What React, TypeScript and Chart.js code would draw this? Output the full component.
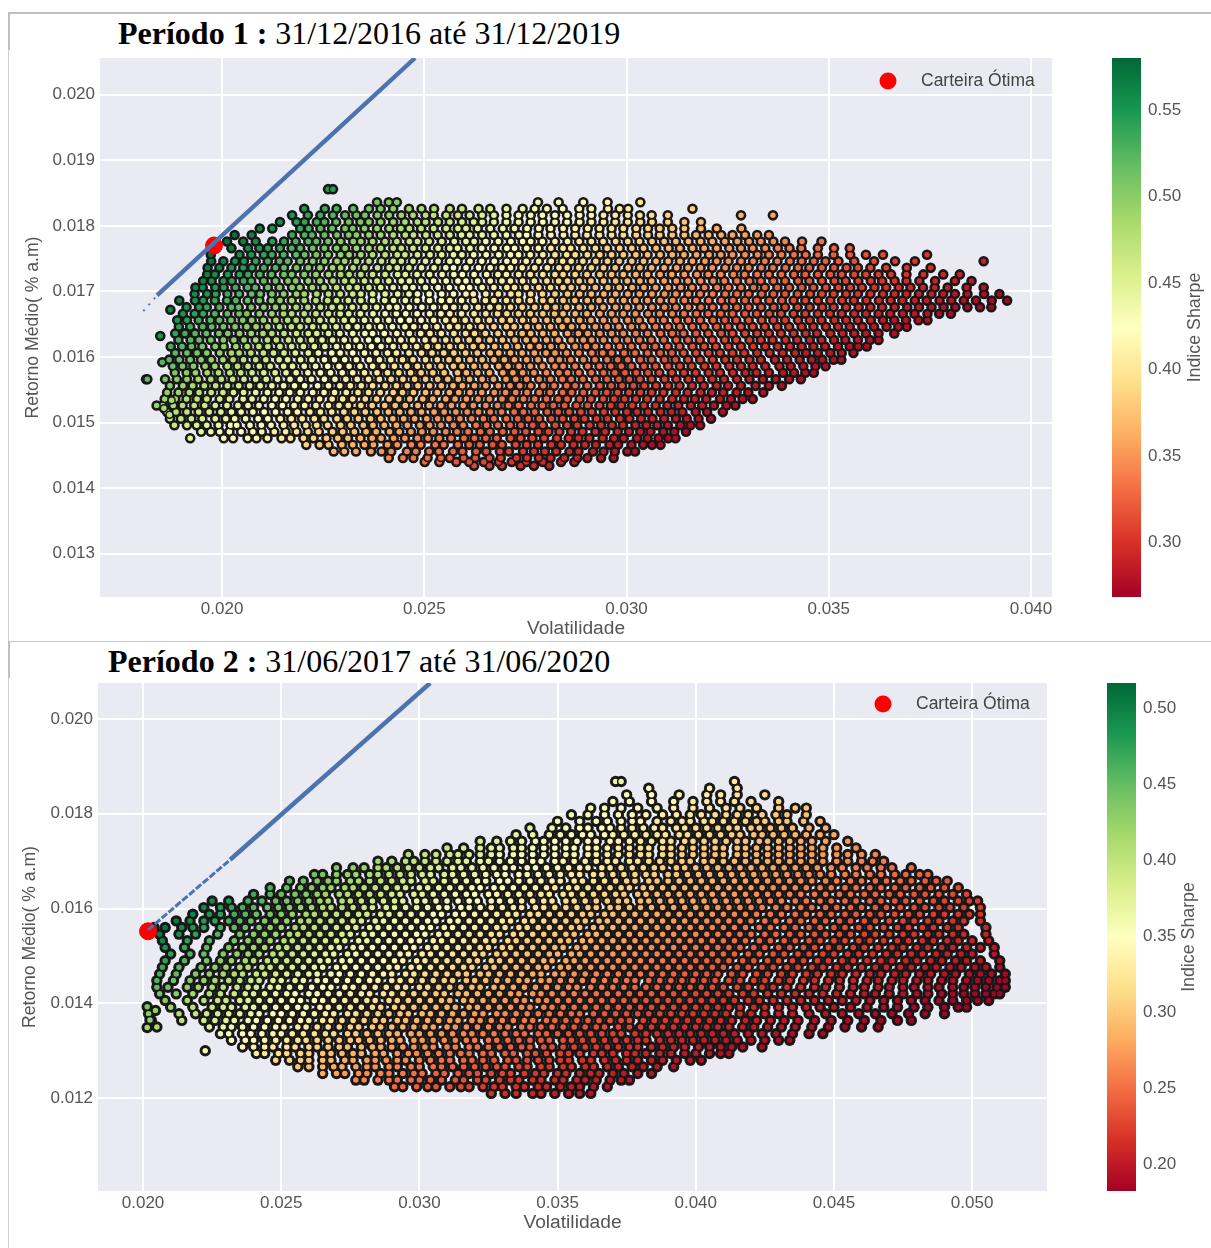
import React, { useEffect, useRef } from "react";
import { Chart, registerables } from "chart.js";
Chart.register(...registerables);

// [Retorno Médio × 1e5, [Volatilidade × 1e5, ...]]
const ROWS_1: [number, number[]][] = [
[1434,[2623,2661,2692,2738,2771,2809]],
[1440,[2501,2537,2579,2611,2647,2684,2716,2752,2793,2838,2871]],
[1446,[2412,2447,2473,2508,2541,2563,2597,2626,2661,2689,2728,2754,2783,2812,2846,2878,2903,2937,2968]],
[1456,[2276,2302,2331,2368,2394,2418,2457,2479,2512,2536,2571,2594,2628,2653,2687,2709,2744,2771,2798,2826,2859,2881,2917,2943,2971,3002,3021]],
[1466,[2208,2241,2263,2296,2323,2352,2374,2409,2433,2468,2491,2527,2548,2583,2611,2637,2669,2692,2726,2753,2781,2814,2838,2869,2897,2924,2958,2979,3012,3041,3063,3084]],
[1476,[1921,2004,2027,2063,2085,2112,2147,2169,2201,2226,2258,2286,2311,2342,2371,2393,2424,2452,2483,2509,2537,2566,2598,2624,2652,2679,2713,2738,2767,2796,2828,2857,2881,2908,2941,2969,2993,3026,3052,3079,3103,3121]],
[1486,[1948,1972,1994,2018,2047,2076,2098,2129,2157,2184,2212,2239,2273,2298,2327,2356,2381,2414,2438,2467,2494,2522,2553,2581,2608,2639,2662,2694,2723,2751,2782,2807,2834,2863,2891,2923,2947,2978,3006,3034,3059,3091,3118,3147]],
[1496,[1882,1913,1937,1962,1991,2021,2036,2069,2097,2121,2152,2178,2207,2234,2261,2293,2318,2349,2373,2401,2431,2458,2489,2513,2541,2572,2596,2628,2654,2682,2712,2739,2768,2793,2824,2853,2878,2909,2937,2964,2991,3022,3049,3076,3102,3133,3158,3182]],
[1506,[1871,1898,1924,1951,1983,2009,2031,2058,2089,2113,2144,2171,2198,2228,2252,2284,2309,2337,2367,2392,2422,2449,2476,2506,2533,2561,2588,2617,2646,2672,2703,2731,2757,2784,2814,2842,2871,2896,2926,2953,2984,3007,3036,3064,3093,3122,3149,3178,3209]],
[1516,[1864,1886,1913,1942,1968,1997,2023,2047,2076,2104,2132,2162,2186,2217,2243,2271,2301,2327,2354,2383,2411,2439,2467,2493,2524,2549,2578,2606,2634,2663,2691,2722,2745,2773,2804,2831,2858,2887,2914,2944,2972,3001,3026,3053,3084,3111,3138,3171,3199,3238]],
[1526,[1853,1879,1902,1931,1957,1983,2012,2039,2064,2091,2123,2149,2178,2204,2232,2263,2289,2312,2343,2371,2402,2428,2453,2484,2512,2541,2567,2596,2621,2652,2681,2708,2733,2764,2792,2819,2847,2876,2904,2933,2961,2987,3014,3043,3072,3101,3128,3159,3187,3216,3247,3269]],
[1536,[1858,1884,1912,1938,1962,1994,2018,2052,2074,2103,2131,2158,2187,2213,2241,2272,2298,2323,2354,2382,2413,2437,2464,2496,2521,2553,2576,2604,2633,2661,2692,2717,2745,2773,2802,2831,2853,2884,2912,2942,2969,2995,3023,3051,3082,3113,3142,3169,3197,3231,3258,3287,3312]],
[1546,[1864,1892,1919,1943,1973,2002,2028,2053,2083,2112,2141,2167,2193,2224,2252,2278,2307,2336,2362,2391,2423,2446,2473,2503,2532,2562,2585,2613,2642,2673,2701,2726,2754,2784,2811,2842,2864,2893,2923,2951,2978,3006,3034,3062,3091,3122,3151,3183,3211,3239,3272,3301,3338]],
[1556,[1871,1903,1927,1956,1984,2013,2041,2068,2094,2123,2152,2179,2204,2236,2263,2291,2317,2344,2372,2403,2431,2458,2484,2513,2542,2571,2594,2624,2652,2683,2712,2736,2763,2794,2821,2852,2873,2903,2934,2962,2989,3017,3044,3073,3103,3131,3162,3191,3223,3251,3283,3319,3352,3384]],
[1566,[1812,1859,1888,1913,1941,1972,1998,2026,2054,2083,2109,2137,2168,2193,2221,2253,2279,2306,2334,2362,2389,2418,2447,2476,2503,2533,2558,2584,2612,2643,2671,2702,2726,2753,2784,2812,2841,2863,2892,2924,2952,2981,3007,3033,3062,3094,3123,3153,3182,3212,3241,3273,3304,3337,3369,3402,3431]],
[1576,[1883,1912,1934,1963,1991,2019,2046,2074,2103,2131,2158,2183,2212,2243,2268,2297,2323,2352,2383,2409,2437,2466,2492,2521,2549,2582,2604,2632,2661,2694,2719,2743,2771,2802,2833,2854,2882,2913,2943,2971,2996,3024,3053,3081,3112,3142,3171,3203,3231,3263,3294,3321,3352,3387,3414,3442,3463]],
[1586,[1878,1902,1929,1958,1982,2013,2038,2064,2092,2119,2152,2174,2203,2231,2261,2289,2314,2341,2372,2398,2426,2457,2483,2512,2541,2572,2593,2623,2652,2684,2707,2734,2762,2792,2823,2843,2873,2904,2933,2961,2987,3012,3043,3072,3103,3132,3161,3193,3222,3254,3283,3312,3343,3378,3406,3437,3467,3492]],
[1596,[1869,1894,1921,1948,1973,2002,2027,2053,2083,2108,2141,2162,2194,2222,2253,2278,2303,2332,2364,2389,2417,2446,2472,2503,2532,2561,2584,2613,2643,2672,2698,2723,2753,2781,2814,2834,2862,2893,2922,2952,2978,3003,3034,3062,3094,3121,3152,3182,3213,3244,3273,3304,3332,3367,3397,3428,3458,3484,3512,3531]],
[1606,[1884,1913,1938,1962,1994,2023,2042,2071,2102,2127,2153,2181,2213,2238,2271,2292,2323,2352,2381,2409,2431,2462,2493,2519,2548,2573,2602,2631,2663,2684,2713,2742,2772,2801,2823,2852,2882,2914,2941,2963,2994,3021,3052,3083,3112,3141,3172,3203,3231,3262,3291,3323,3354,3386,3417,3444,3473,3504,3532,3561]],
[1616,[1873,1901,1924,1951,1983,2004,2034,2062,2091,2113,2143,2172,2201,2228,2254,2283,2312,2341,2369,2393,2423,2452,2481,2507,2534,2563,2592,2621,2643,2674,2703,2731,2761,2784,2813,2841,2873,2901,2923,2954,2983,3012,3043,3071,3102,3131,3163,3192,3221,3252,3283,3313,3343,3374,3404,3433,3462,3491,3523,3552,3573,3594]],
[1626,[1892,1922,1943,1972,2003,2029,2054,2083,2112,2134,2164,2193,2221,2247,2273,2302,2331,2362,2384,2412,2442,2471,2502,2524,2553,2582,2611,2634,2662,2693,2724,2752,2773,2802,2831,2863,2893,2914,2943,2974,3003,3032,3061,3092,3123,3152,3181,3212,3243,3271,3304,3332,3361,3393,3422,3453,3482,3513,3541,3572,3602,3623]],
[1636,[1884,1908,1933,1961,1992,2014,2043,2072,2101,2123,2153,2184,2213,2234,2263,2291,2323,2353,2372,2401,2432,2463,2491,2514,2542,2573,2602,2624,2651,2682,2713,2742,2763,2793,2822,2854,2881,2904,2934,2963,2992,3023,3052,3084,3113,3141,3172,3202,3234,3262,3293,3323,3352,3382,3413,3443,3471,3504,3534,3563,3592,3623,3662]],
[1646,[1893,1921,1952,1974,2003,2032,2061,2084,2113,2142,2171,2193,2224,2253,2282,2311,2334,2363,2392,2421,2452,2474,2503,2531,2562,2583,2612,2641,2672,2703,2722,2754,2783,2812,2841,2864,2893,2923,2952,2981,3012,3041,3072,3103,3132,3163,3192,3223,3252,3283,3312,3342,3373,3402,3433,3462,3493,3523,3552,3583,3612,3643,3672,3693]],
[1656,[1889,1913,1942,1971,1993,2022,2051,2073,2102,2133,2162,2183,2213,2242,2273,2302,2323,2352,2383,2412,2441,2463,2492,2523,2553,2574,2601,2632,2661,2692,2713,2743,2772,2803,2832,2853,2884,2912,2943,2972,3003,3031,3063,3092,3124,3153,3182,3214,3243,3271,3302,3334,3363,3392,3424,3453,3482,3514,3543,3572,3604,3634,3662,3691,3722,3744]],
[1666,[1903,1932,1953,1982,2013,2042,2061,2092,2123,2152,2172,2203,2232,2263,2292,2313,2342,2373,2403,2431,2454,2482,2513,2541,2563,2592,2623,2652,2681,2704,2733,2762,2793,2822,2843,2873,2902,2934,2963,2992,3022,3053,3082,3113,3142,3173,3202,3233,3262,3293,3322,3353,3382,3413,3442,3473,3503,3532,3563,3592,3623,3652,3683,3712,3744,3773,3802]],
[1676,[1912,1943,1962,1993,2023,2041,2072,2103,2132,2152,2183,2212,2243,2272,2293,2322,2353,2382,2413,2432,2463,2494,2523,2552,2573,2602,2633,2662,2684,2713,2742,2773,2802,2824,2852,2883,2913,2942,2973,3002,3032,3063,3094,3122,3153,3184,3213,3244,3273,3302,3333,3364,3392,3423,3453,3484,3512,3543,3574,3603,3632,3663,3694,3723,3754,3784,3813,3843,3874,3902]],
[1686,[1894,1933,1953,1982,2012,2034,2063,2092,2122,2143,2172,2203,2232,2261,2283,2312,2343,2372,2402,2424,2453,2482,2513,2542,2563,2592,2623,2651,2672,2703,2733,2762,2793,2814,2843,2872,2903,2932,2963,2993,3023,3052,3083,3114,3143,3172,3203,3234,3263,3293,3322,3353,3384,3413,3442,3473,3504,3533,3562,3593,3624,3653,3682,3713,3742,3774,3803,3834,3864,3903,3941]],
[1696,[1932,1963,1984,2013,2042,2073,2094,2123,2152,2184,2203,2234,2263,2292,2323,2343,2372,2403,2434,2462,2483,2512,2543,2572,2603,2621,2652,2683,2714,2733,2763,2792,2823,2854,2884,2913,2944,2973,3003,3032,3063,3094,3122,3153,3182,3213,3244,3273,3302,3334,3363,3392,3423,3454,3483,3512,3543,3572,3603,3634,3663,3692,3723,3754,3783,3812,3843,3884,3922]],
[1706,[1934,1952,1983,2004,2033,2063,2082,2113,2142,2173,2192,2223,2252,2283,2314,2334,2363,2392,2423,2453,2472,2503,2534,2562,2594,2612,2643,2672,2704,2723,2752,2783,2812,2843,2863,2893,2923,2954,2982,3014,3043,3072,3103,3134,3162,3193,3224,3252,3283,3314,3342,3373,3402,3433,3462,3493,3524,3553,3582,3613,3642,3673,3702,3733,3762,3794,3841,3883]],
[1716,[1953,1974,2003,2024,2053,2072,2103,2132,2163,2182,2213,2242,2274,2303,2323,2352,2383,2412,2443,2463,2492,2523,2554,2583,2603,2632,2663,2692,2713,2743,2772,2803,2832,2854,2883,2912,2943,2973,3002,3033,3062,3093,3123,3152,3183,3214,3242,3273,3304,3332,3363,3392,3424,3452,3483,3514,3542,3573,3604,3632,3663,3692,3724,3763,3812,3853]],
[1726,[1963,1982,2014,2043,2064,2093,2122,2153,2172,2203,2232,2263,2293,2314,2343,2372,2403,2434,2453,2482,2513,2544,2573,2594,2623,2654,2682,2703,2733,2762,2793,2823,2843,2873,2902,2934,2963,2992,3023,3052,3083,3112,3143,3174,3202,3233,3264,3292,3323,3352,3383,3414,3442,3473,3504,3532,3563,3592,3623,3654,3692,3734,3783,3824]],
[1736,[1964,1993,2023,2052,2074,2103,2132,2153,2184,2213,2242,2273,2293,2324,2353,2384,2413,2433,2462,2493,2524,2553,2572,2603,2634,2663,2692,2713,2742,2773,2804,2833,2853,2882,2913,2943,2972,3004,3033,3062,3093,3124,3152,3183,3212,3244,3273,3302,3333,3362,3393,3424,3452,3483,3513,3544,3572,3603,3642,3693,3752]],
[1746,[1973,2003,2032,2054,2083,2113,2142,2162,2193,2224,2253,2284,2303,2332,2363,2394,2423,2443,2472,2503,2534,2563,2582,2613,2642,2673,2704,2723,2752,2783,2814,2842,2863,2892,2924,2953,2982,3013,3042,3073,3103,3132,3163,3194,3223,3252,3283,3313,3342,3373,3404,3433,3463,3492,3524,3563,3612,3664,3713,3883]],
[1756,[1972,2043,2072,2103,2123,2152,2183,2204,2233,2262,2293,2314,2343,2372,2403,2433,2452,2483,2514,2543,2572,2593,2622,2653,2684,2713,2733,2762,2793,2823,2852,2873,2903,2934,2963,2992,3023,3052,3083,3113,3142,3173,3204,3233,3262,3293,3324,3352,3383,3414,3443,3473,3512,3553,3592,3634,3743]],
[1766,[1982,2023,2064,2092,2113,2143,2172,2193,2224,2253,2283,2304,2332,2363,2392,2423,2443,2472,2503,2534,2563,2582,2613,2642,2673,2704,2723,2753,2782,2813,2843,2862,2893,2923,2952,2983,3013,3042,3073,3104,3132,3163,3192,3223,3254,3283,3312,3343,3374,3403,3432,3473,3513,3552]],
[1776,[2012,2052,2083,2124,2153,2182,2213,2233,2262,2293,2324,2343,2372,2403,2432,2463,2483,2512,2543,2574,2603,2623,2652,2683,2714,2743,2763,2792,2823,2854,2883,2913,2942,2973,3003,3032,3063,3093,3122,3153,3183,3212,3243,3274,3303,3332,3363,3392,3434,3482]],
[1786,[2031,2073,2173,2204,2222,2253,2284,2313,2332,2363,2392,2423,2453,2473,2504,2533,2563,2592,2612,2643,2672,2703,2734,2753,2782,2813,2844,2873,2902,2933,2963,2992,3024,3053,3082,3113,3143,3172,3203,3234,3262,3293,3323,3352]],
[1796,[2093,2124,2193,2214,2243,2272,2304,2323,2352,2383,2413,2442,2463,2492,2523,2554,2583,2603,2632,2663,2694,2723,2754,2783,2812,2843,2873,2904,2933,2963,2992,3024,3053,3082,3113,3143,3184,3223,3284]],
[1806,[2143,2184,2204,2234,2253,2282,2313,2342,2363,2392,2423,2452,2483,2503,2534,2563,2593,2622,2643,2672,2703,2733,2763,2793,2823,2853,2884,2913,2943,2972,3003,3034,3063,3102,3143,3184]],
[1816,[2173,2212,2243,2274,2304,2332,2353,2384,2413,2443,2472,2503,2523,2554,2583,2612,2643,2672,2703,2733,2763,2792,2823,2853,2884,2913,2943,2972,3003,3033,3062,3102,3283,3362]],
[1826,[2203,2254,2283,2324,2363,2392,2423,2462,2493,2524,2563,2593,2634,2663,2703,2743,2773,2803,2842,2883,2913,2954,2983,3004,3163]],
[1836,[2383,2412,2432,2781,2832,2893,2953,3034]],
[1856,[2262,2274]],
];
// dots left of the main body, [volatilidade, retorno]
const STRAY_1 = [[0.01815,0.01566],[0.01838,0.01526],[0.01856,0.01522],[0.01852,0.01592],[0.01847,0.01632],[0.01872,0.01672],[0.01875,0.01534],[0.0187,0.01512]];
const BEST_1 = [{ x: 0.0198, y: 0.0177 }];
const FRONTIER_1 = [[0.01805,0.0167],[0.01839,0.01694],[0.02477,0.02056]];

const ROWS_2: [number, number[]][] = [
[1210,[326,331,335,341,344,349,354,358,362]],
[1224,[291,294,299,303,306,311,315,318,323,327,330,335,338,343,346,351,355,358,363,368]],
[1238,[277,280,285,289,292,297,300,304,308,313,316,321,324,329,333,336,341,344,349,352,357,360,364,369,373,376]],
[1252,[265,270,273,278,281,286,289,294,298,301,306,309,314,318,321,326,330,333,338,342,345,350,353,358,362,365,370,374,379,384]],
[1266,[256,260,265,269,272,277,281,284,289,292,297,300,305,308,312,316,320,324,328,331,336,339,344,347,352,355,360,363,368,372,377,381,386,392]],
[1280,[248,253,257,260,265,268,273,276,281,284,288,292,295,300,304,308,311,316,319,323,327,332,335,339,343,347,351,354,359,362,367,371,375,379,384,388,393,398,402]],
[1294,[241,244,249,252,257,260,265,268,272,276,279,284,287,292,296,299,303,307,311,315,318,323,326,331,334,339,342,346,351,354,358,363,366,370,375,378,382,387,391,396,400,405,409,412]],
[1308,[236,240,244,247,252,255,260,263,267,271,274,279,283,286,290,294,298,302,305,310,313,318,321,325,329,333,337,340,345,348,352,356,360,364,368,372,376,379,384,388,392,396,401,405,409,413,417,424]],
[1322,[232,237,240,244,248,252,256,259,263,267,271,275,278,282,286,290,293,298,301,305,309,313,317,320,325,328,332,336,340,344,347,352,355,359,363,367,371,375,379,382,387,391,395,399,403,407,411,415,420,425,430,434]],
[1336,[228,231,236,239,243,247,250,254,258,262,266,269,274,277,281,285,289,292,297,300,304,308,312,316,319,323,327,331,335,338,343,346,350,354,358,362,366,370,373,378,382,386,390,394,398,402,406,410,414,419,424,429,435,441,446]],
[1350,[205,224,229,232,236,240,244,248,251,256,259,263,267,271,275,278,283,286,290,294,298,302,305,310,313,317,321,325,329,332,337,340,344,348,352,356,360,364,367,372,376,380,384,388,392,396,400,404,408,412,417,421,426,431,436,442,448,454,460,466]],
[1364,[203,214,222,226,230,233,238,241,245,249,253,257,260,265,268,272,276,280,284,287,292,295,299,303,307,311,314,319,322,326,330,334,338,341,346,349,353,357,361,365,369,373,376,381,385,389,393,397,401,405,409,413,418,422,427,432,437,443,449,455,461,467,473,478]],
[1378,[202,213,219,223,227,231,235,239,242,247,250,254,258,262,266,269,274,277,281,285,289,293,296,301,304,308,312,316,320,323,328,331,335,339,343,347,351,355,358,363,367,371,375,379,383,387,391,395,399,403,407,411,416,420,425,430,435,441,447,453,459,465,471,477,483,490]],
[1392,[210,218,225,229,232,237,240,244,248,252,256,259,264,267,271,275,279,283,286,291,294,298,302,306,310,313,318,321,325,329,333,337,340,345,348,352,356,360,364,368,372,376,380,384,388,392,396,400,404,408,412,416,421,425,430,435,440,445,450,456,462,468,473,479,484,490,495,498]],
[1406,[208,216,222,227,230,235,238,242,246,250,254,257,262,265,269,273,277,281,284,289,292,296,300,304,308,311,316,319,323,327,331,335,338,343,346,350,354,358,362,366,370,374,378,382,386,390,394,398,402,406,410,414,419,423,428,433,438,443,448,453,458,463,468,473,478,483,488,493,498,502,506]],
[1420,[206,212,218,224,228,233,237,240,244,248,252,255,260,263,267,271,275,279,282,287,290,294,298,302,306,309,314,317,321,325,329,333,336,341,344,348,352,356,360,364,368,372,376,380,384,388,392,396,400,404,408,412,417,421,426,431,436,441,446,451,456,461,465,470,475,480,484,489,493,497,501,505,508,510]],
[1434,[205,209,216,220,225,229,234,238,241,246,249,253,257,261,265,268,273,276,280,284,288,292,295,300,303,307,311,315,319,322,327,330,334,338,342,346,350,354,357,362,366,370,374,378,382,386,390,394,398,402,406,410,415,419,424,428,433,438,443,447,452,457,461,466,470,475,479,484,488,493,497,501,505,509,512]],
[1448,[205,211,217,222,226,231,235,239,242,247,250,255,258,263,266,270,274,278,282,285,290,293,297,301,305,309,312,317,320,324,328,332,336,339,344,347,351,355,359,363,367,371,375,378,383,387,391,395,399,403,407,412,416,421,425,430,434,439,443,448,452,457,462,466,471,475,480,484,489,493,498,502,506,510,512]],
[1462,[206,212,219,224,229,233,236,241,244,248,252,256,260,263,268,271,275,279,283,287,290,295,298,302,306,310,314,317,322,325,329,333,337,341,344,349,352,356,360,364,368,372,376,380,384,388,392,396,400,404,408,413,417,422,426,431,435,440,444,449,453,458,463,467,472,476,481,485,490,494,499,503,507,512]],
[1476,[207,213,221,226,230,235,238,243,246,250,254,258,262,265,270,273,277,281,285,289,292,297,300,304,308,312,316,319,324,327,331,335,339,343,346,351,354,358,362,366,370,374,378,382,386,390,394,398,402,406,410,415,419,424,428,433,437,442,446,451,455,460,465,469,474,478,483,487,492,496,501,505,510]],
[1490,[208,215,223,228,232,237,240,245,248,252,256,260,264,267,272,275,279,283,287,291,294,299,302,306,310,314,318,321,326,329,333,337,341,345,348,353,356,360,364,368,372,376,380,384,388,392,396,400,404,408,412,417,421,426,430,435,439,444,448,453,457,462,467,471,476,480,485,489,494,498,503,510]],
[1504,[210,217,222,229,234,238,242,247,250,254,258,262,266,269,274,277,281,285,289,293,296,301,304,308,312,316,320,323,328,331,335,339,343,347,350,355,358,362,366,370,374,378,382,386,390,394,398,402,406,410,414,419,423,428,432,437,441,446,450,455,459,464,469,473,478,482,487,491,496,500,508]],
[1518,[208,215,223,231,236,240,244,249,252,256,260,264,268,271,276,279,283,287,291,295,298,303,306,310,314,318,322,325,330,333,337,341,345,349,352,357,360,364,368,372,376,380,384,388,392,396,400,404,408,412,416,421,425,430,434,439,443,448,452,457,461,466,471,475,480,484,489,493,498,503,508]],
[1532,[207,216,224,233,238,242,246,251,254,258,262,266,270,273,278,281,285,289,293,297,300,305,308,312,316,320,324,327,332,335,339,343,347,351,354,359,362,366,370,374,378,382,386,390,394,398,402,406,410,414,418,423,427,432,436,441,445,450,454,459,463,468,473,477,482,486,491,495,500,506]],
[1546,[206,213,219,227,235,240,244,248,253,256,260,264,268,272,275,280,283,287,291,295,299,302,307,310,314,318,322,326,329,334,337,341,345,349,353,356,361,364,368,372,376,380,384,388,392,396,400,404,408,412,416,420,425,429,434,438,443,447,452,456,461,465,470,475,479,484,488,493,497,505]],
[1560,[204,208,214,218,222,228,233,237,242,246,250,255,258,262,266,270,274,277,282,285,289,293,297,301,304,309,312,316,320,324,328,331,336,339,343,347,351,355,358,363,366,370,374,378,382,386,390,394,398,402,406,410,414,418,423,427,432,436,441,445,450,454,459,463,468,473,477,482,486,491,495,505]],
[1574,[212,217,222,226,231,235,239,244,248,252,257,260,264,268,272,276,279,284,287,291,295,299,303,306,311,314,318,322,326,330,333,338,341,345,349,353,357,360,365,368,372,376,380,384,388,392,396,400,404,408,412,416,420,425,429,434,438,443,447,452,456,461,465,470,475,479,484,488,493,497,503]],
[1588,[218,224,228,233,237,241,246,250,254,259,262,266,270,274,278,281,286,289,293,297,301,305,308,313,316,320,324,328,332,335,340,343,347,351,355,359,362,367,370,374,378,382,386,390,394,398,402,406,410,414,418,422,427,431,436,440,445,449,454,458,463,467,472,477,481,486,490,495,499,503]],
[1602,[222,228,232,236,240,245,249,253,257,261,265,268,272,276,280,283,288,291,295,299,303,307,310,315,318,322,326,330,334,337,342,345,349,353,357,361,364,369,372,376,380,384,388,392,396,400,404,408,412,416,420,424,429,433,438,442,447,451,456,460,465,469,474,479,483,488,492,497,503]],
[1616,[225,231,238,243,248,252,256,260,264,267,272,275,279,283,287,291,294,299,302,306,310,314,318,321,326,329,333,337,341,345,348,353,356,360,364,368,372,375,380,383,387,391,395,399,403,407,411,415,419,423,427,431,436,440,445,449,454,458,463,467,472,476,481,486,490,495,499,502]],
[1630,[240,246,250,255,259,263,266,271,274,278,282,286,290,293,298,301,305,309,313,317,320,325,328,332,336,340,344,347,352,355,359,363,367,371,374,379,382,386,390,394,398,402,406,410,414,418,422,426,430,434,438,443,447,452,456,461,465,470,474,479,483,488,493,498]],
[1644,[246,252,257,261,265,268,273,276,280,284,288,292,295,300,303,307,311,315,319,322,327,330,334,338,342,346,349,354,357,361,365,369,373,376,381,384,388,392,396,400,404,408,412,416,420,424,428,432,436,440,445,449,454,458,463,467,472,476,481,485,490,495]],
[1658,[253,258,263,267,270,275,278,282,286,290,294,297,302,305,309,313,317,321,324,329,332,336,340,344,348,351,356,359,363,367,371,375,378,383,386,390,394,398,402,406,410,414,418,422,426,430,434,438,442,447,451,456,460,465,469,474,478,483,487,491]],
[1672,[262,265,270,274,277,282,285,289,293,297,301,304,309,312,316,320,324,328,331,336,339,343,347,351,355,358,363,366,370,374,378,382,385,390,393,397,401,405,409,413,417,421,425,429,433,437,441,445,449,454,458,463,467,472,476,481,484]],
[1686,[270,276,280,285,288,292,296,300,304,307,312,315,319,323,327,331,334,339,342,346,350,354,358,361,366,369,373,377,381,385,388,393,396,400,404,408,412,416,420,424,428,432,436,440,444,449,453,458,462,467,471,478]],
[1700,[285,290,295,298,302,306,310,314,317,322,325,329,333,337,341,344,349,352,356,360,364,368,371,376,379,383,387,391,395,398,403,406,410,414,418,422,426,430,434,438,442,446,451,455,460,464,468]],
[1714,[296,302,306,311,314,318,322,326,329,334,337,341,345,349,353,356,361,364,368,372,376,380,383,388,391,395,399,403,407,410,415,418,422,426,430,434,438,442,446,451,455,460,465]],
[1728,[310,316,322,326,329,334,337,341,345,349,353,356,361,364,368,372,376,380,383,388,391,395,399,403,407,410,415,418,422,426,430,434,438,442,446,451,458]],
[1742,[322,328,333,337,342,345,349,353,357,361,364,369,372,376,380,384,388,391,396,399,403,407,411,415,418,423,426,430,434,438,442,447,455]],
[1756,[335,341,347,351,355,359,362,367,370,374,378,382,386,389,394,397,401,405,409,413,416,421,424,428,432,436,440,445,450]],
[1770,[340,348,353,358,361,366,369,373,377,381,385,388,393,396,400,404,408,412,415,420,423,427,431,435,441,447]],
[1784,[350,358,364,368,373,377,380,386,391,395,398,403,406,410,414,418,422,425,430,433,439,445]],
[1798,[355,361,367,372,377,382,388,393,398,402,407,411,415,419,424,429,433,440]],
[1812,[362,367,373,379,386,392,399,405,411,416,422,430,436,440]],
[1826,[370,376,384,392,399,404,409,414,420,430]],
[1840,[375,384,394,404,409,415,425]],
[1854,[383,405,415]],
[1868,[371,373,414]],
];
const STRAY_2 = [[0.02225,0.013],[0.02015,0.01349],[0.02025,0.01365],[0.02015,0.01393],[0.02045,0.01385]];
const BEST_2 = [{ x: 0.02018, y: 0.01552 }];
const FRONTIER_2 = [[0.02018,0.01555],[0.02315,0.01703],[0.03039,0.02076]];

const XTICKS_1 = [0.02, 0.025, 0.03, 0.035, 0.04];
const YTICKS_1 = [0.013, 0.014, 0.015, 0.016, 0.017, 0.018, 0.019, 0.02];
const XTICKS_2 = [0.02, 0.025, 0.03, 0.035, 0.04, 0.045, 0.05];
const YTICKS_2 = [0.012, 0.014, 0.016, 0.018, 0.02];
const CTICKS_1 = [0.3, 0.35, 0.4, 0.45, 0.5, 0.55];
const CTICKS_2 = [0.2, 0.25, 0.3, 0.35, 0.4, 0.45, 0.5];
const RDYLGN = ["#a50026","#d73027","#f46d43","#fdae61","#fee08b","#ffffbf","#d9ef8b","#a6d96a","#66bd63","#1a9850","#006837"];

const hex = (c: string) => [1, 3, 5].map((i) => parseInt(c.slice(i, i + 2), 16));
function cmap(t: number) {
  const v = Math.max(0, Math.min(1, t)) * (RDYLGN.length - 1);
  const i = Math.min(Math.floor(v), RDYLGN.length - 2);
  const a = hex(RDYLGN[i]), b = hex(RDYLGN[i + 1]);
  const f = v - i;
  return `rgb(${a.map((p, k) => Math.round(p + (b[k] - p) * f)).join(",")})`;
}
const FONT = "'Liberation Sans', Arial, sans-serif";
const TXT = "#555";

const plotBg = {
  id: "plotBg",
  beforeDraw(c: any) {
    const a = c.chartArea;
    c.ctx.fillStyle = "#e9eaf2";
    c.ctx.fillRect(a.left, a.top, a.right - a.left, a.bottom - a.top);
  },
};

function scatterCfg(p: any) {
  const pts: any[] = [];
  const colors: string[] = [];
  const add = (x: number, y: number) => {
    pts.push({ x, y });
    // Indice Sharpe of the dot = (retorno - taxa livre) / volatilidade
    colors.push(cmap(((y - p.rf) / x - p.cmin) / (p.cmax - p.cmin)));
  };
  p.rows.forEach(([r, vols]: [number, number[]]) => vols.forEach((v) => add(v / p.volDiv, r / 1e5)));
  p.stray.forEach(([x, y]: number[]) => add(x, y));
  const legendPlugin = {
    id: "bestLegend",
    afterDatasetsDraw(c: any) {
      const g = c.ctx;
      const best = c.data.datasets[1];
      g.save();
      g.beginPath();
      g.arc(p.legendDot[0], p.legendDot[1], 8.5, 0, Math.PI * 2);
      g.fillStyle = best.backgroundColor;
      g.fill();
      g.fillStyle = "#444";
      g.font = `17.5px ${FONT}`;
      g.textBaseline = "middle";
      g.fillText(best.label, p.legendText[0], p.legendText[1]);
      g.restore();
    },
  };
  return {
    type: "scatter",
    data: {
      datasets: [
        {
          label: "Fronteira", data: p.frontier.map(([x, y]: number[]) => ({ x, y })), showLine: true, borderColor: "#4c72b0", borderWidth: 4.4, pointRadius: 0,
          segment: { borderDash: (ctx: any) => (ctx.p0DataIndex === 0 ? p.startDash : undefined), borderWidth: (ctx: any) => (ctx.p0DataIndex === 0 ? p.startWidth : 4.4) },
        },
        { label: "Carteira Ótima", data: p.best, backgroundColor: "#ff0000", borderColor: "#ff0000", pointRadius: 8.5, pointHoverRadius: 8.5 },
        { label: "Carteiras", data: pts, backgroundColor: colors, borderColor: "#161616", borderWidth: 1.5, pointRadius: 3.5 },
        { label: "Contorno", data: pts, backgroundColor: "#1a1a1a", borderWidth: 0, pointRadius: p.under },
      ],
    },
    options: {
      responsive: false,
      animation: false,
      layout: { padding: { top: p.padTop, right: p.padRight, left: 0, bottom: 0 } },
      plugins: { tooltip: { enabled: false }, legend: { display: false } },
      scales: {
        x: {
          type: "linear", min: p.xmin, max: p.xmax,
          afterFit: (s: any) => { s.height = p.axisH; s.paddingLeft = 0; s.paddingRight = 0; },
          afterBuildTicks: (s: any) => { s.ticks = p.xticks.map((value: number) => ({ value })); },
          grid: { color: "#fff", lineWidth: 2, drawTicks: false },
          border: { display: false },
          ticks: { color: TXT, font: { family: FONT, size: 17 }, padding: 2, maxRotation: 0, callback: (v: any) => Number(v).toFixed(3) },
          title: { display: true, text: "Volatilidade", color: TXT, font: { family: FONT, size: 19.2 }, padding: 0 },
        },
        y: {
          type: "linear", min: p.ymin, max: p.ymax,
          afterFit: (s: any) => { s.width = p.axisW; s.paddingTop = 0; s.paddingBottom = 0; },
          afterBuildTicks: (s: any) => { s.ticks = p.yticks.map((value: number) => ({ value })); },
          grid: { color: "#fff", lineWidth: 2, drawTicks: false },
          border: { display: false },
          ticks: { color: TXT, font: { family: FONT, size: 17 }, padding: 5, callback: (v: any) => Number(v).toFixed(3) },
          title: { display: true, text: "Retorno Médio( % a.m)", color: TXT, font: { family: FONT, size: 17.6 }, padding: { top: p.yTitlePad, bottom: 0 } },
        },
      },
    },
    plugins: [plotBg, legendPlugin],
  };
}

function colorbarCfg(p: any) {
  return {
    type: "bar",
    data: {
      labels: ["Indice Sharpe"],
      datasets: [{
        data: [[p.cmin, p.cmax]],
        barPercentage: 1,
        categoryPercentage: 1,
        backgroundColor: (ctx: any) => {
          const a = ctx.chart.chartArea;
          if (!a) return "#888";
          const g = ctx.chart.ctx.createLinearGradient(0, a.bottom, 0, a.top);
          RDYLGN.forEach((c, i) => g.addColorStop(i / (RDYLGN.length - 1), c));
          return g;
        },
      }],
    },
    options: {
      responsive: false,
      animation: false,
      layout: { padding: { top: p.padTop, left: p.padLeft, right: 0, bottom: p.padBottom } },
      plugins: { legend: { display: false }, tooltip: { enabled: false } },
      scales: {
        x: { display: false },
        y: {
          position: "right", min: p.cmin, max: p.cmax,
          afterFit: (s: any) => { s.width = p.axisW; s.paddingTop = 0; s.paddingBottom = 0; },
          afterBuildTicks: (s: any) => { s.ticks = p.cticks.map((value: number) => ({ value })); },
          grid: { display: false, drawTicks: false },
          border: { display: false },
          ticks: { color: TXT, font: { family: FONT, size: 17 }, padding: 7, callback: (v: any) => Number(v).toFixed(2) },
        },
      },
    },
    plugins: [{
      id: "cbTitle",
      afterDraw(c: any) {
        const g = c.ctx;
        g.save();
        g.translate(p.titleX, (c.chartArea.top + c.chartArea.bottom) / 2);
        g.rotate(-Math.PI / 2);
        g.textAlign = "center";
        g.textBaseline = "middle";
        g.fillStyle = TXT;
        g.font = `17.8px ${FONT}`;
        g.fillText("Indice Sharpe", 0, 0);
        g.restore();
      },
    }],
  };
}

const PANEL_1 = {
  rows: ROWS_1, volDiv: 1e5, stray: STRAY_1, best: BEST_1, frontier: FRONTIER_1, xticks: XTICKS_1, yticks: YTICKS_1,
  xmin: 0.01698, xmax: 0.04052, ymin: 0.01234, ymax: 0.02056, rf: 0.0062, cmin: 0.2685, cmax: 0.58, under: 5.3,
  padTop: 13, padRight: 48, axisH: 43, axisW: 100, yTitlePad: 23, legendDot: [888, 36], legendText: [921, 36], startDash: [2, 6], startWidth: 2,
};
const PANEL_2 = {
  rows: ROWS_2, volDiv: 1e4, stray: STRAY_2, best: BEST_2, frontier: FRONTIER_2, xticks: XTICKS_2, yticks: YTICKS_2,
  xmin: 0.01837, xmax: 0.05271, ymin: 0.01004, ymax: 0.02076, rf: 0.00506, cmin: 0.1822, cmax: 0.5168, under: 5.7,
  padTop: 15, padRight: 48, axisH: 43, axisW: 98, yTitlePad: 20, legendDot: [883, 36], legendText: [916, 36], startDash: [7, 2], startWidth: 3,
};
const BAR_1 = { cmin: 0.2685, cmax: 0.58, cticks: CTICKS_1, padTop: 8, padBottom: 43, padLeft: 12, axisW: 70, titleX: 95 };
const BAR_2 = { cmin: 0.1822, cmax: 0.5168, cticks: CTICKS_2, padTop: 5, padBottom: 43, padLeft: 12, axisW: 75, titleX: 94 };

const abs = (left: number, top: number, width: number, height: number, background: string): React.CSSProperties => ({ position: "absolute", left, top, width, height, background });
const titleStyle = (left: number, top: number): React.CSSProperties => ({
  position: "absolute", left, top, fontFamily: "'Liberation Serif', 'Times New Roman', serif", fontSize: 32, lineHeight: "36px", color: "#000", whiteSpace: "nowrap",
});
const cv = (left: number, top: number): React.CSSProperties => ({ position: "absolute", left, top, display: "block" });

export default function App() {
  const a = useRef<HTMLCanvasElement>(null);
  const b = useRef<HTMLCanvasElement>(null);
  const c = useRef<HTMLCanvasElement>(null);
  const d = useRef<HTMLCanvasElement>(null);
  useEffect(() => {
    const charts = [
      new Chart(a.current as any, scatterCfg(PANEL_1) as any),
      new Chart(b.current as any, colorbarCfg(BAR_1) as any),
      new Chart(c.current as any, scatterCfg(PANEL_2) as any),
      new Chart(d.current as any, colorbarCfg(BAR_2) as any),
    ];
    return () => charts.forEach((x) => x.destroy());
  }, []);
  return (
    <div style={{ position: "absolute", left: 0, top: 0, width: 1211, height: 1248, overflow: "hidden", background: "#fff" }}>
      <div style={abs(8, 12, 1203, 2, "#c0c0c0")} />
      <div style={abs(8, 12, 2, 38, "#c0c0c0")} />
      <div style={abs(8, 50, 1, 591, "#d0d0d0")} />
      <div style={abs(8, 641, 1203, 1, "#c8c8c8")} />
      <div style={abs(8, 641, 2, 37, "#c0c0c0")} />
      <div style={abs(8, 678, 1, 570, "#d0d0d0")} />
      <div style={titleStyle(118, 15)}><b>Período 1 : </b>31/12/2016 até 31/12/2019</div>
      <div style={titleStyle(108, 643)}><b>Período 2 : </b>31/06/2017 até 31/06/2020</div>
      <canvas ref={a} width={1100} height={595} style={cv(0, 45)} />
      <canvas ref={b} width={111} height={590} style={cv(1100, 50)} />
      <canvas ref={c} width={1095} height={566} style={cv(0, 668)} />
      <canvas ref={d} width={116} height={556} style={cv(1095, 678)} />
    </div>
  );
}
